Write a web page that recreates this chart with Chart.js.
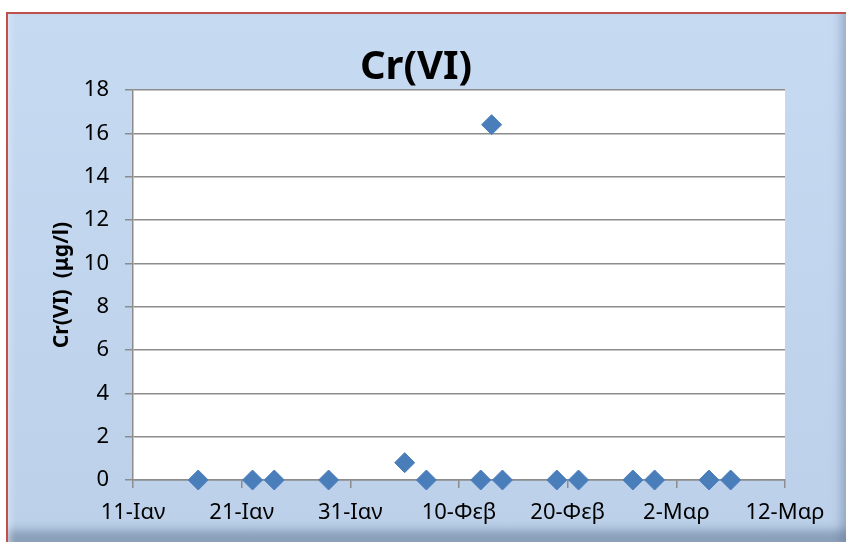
<!DOCTYPE html>
<html>
<head>
<meta charset="utf-8">
<script src="https://cdn.jsdelivr.net/npm/chart.js@4/dist/chart.umd.min.js"></script>
<style>
  html, body { margin: 0; padding: 0; background: #fff; }
  body { width: 846px; height: 542px; position: relative; overflow: hidden; }
  #frame {
    position: absolute; left: 6px; top: 12px; width: 840px; height: 530px;
    box-sizing: border-box;
    border-top: 2px solid #c0504d; border-left: 2px solid #c0504d;
    background: linear-gradient(#c6daf2, #bcd1e9);
    box-shadow: inset 6px 0 6px -4px rgba(255,255,255,0.5),
                inset 0 -18px 10px -6px rgba(90,110,140,0.5),
                inset -12px 0 8px -6px rgba(90,110,140,0.35);
  }
  #chart { position: absolute; left: 0; top: 0; }
</style>
</head>
<body>
<div id="frame"></div>
<canvas id="chart" width="846" height="542"></canvas>
<script>
// sample dates (day-month) and Cr(VI) values in μg/l
const sampleDates = ['17-01', '22-01', '24-01', '29-01', '05-02', '07-02', '12-02', '13-02', '14-02',
                     '19-02', '21-02', '26-02', '28-02', '05-03', '07-03'];
const crValues = [0, 0, 0, 0, 0.8, 0, 0, 16.4, 0, 0, 0, 0, 0, 0, 0];
const xTickLabels = ['11-Ιαν', '21-Ιαν', '31-Ιαν', '10-Φεβ', '20-Φεβ', '2-Μαρ', '12-Μαρ'];
const yTicks = [0, 2, 4, 6, 8, 10, 12, 14, 16, 18];

const startDay = Date.UTC(2015, 0, 11);

function dayOffset(str) {
  const parts = str.split('-');
  return (Date.UTC(2015, Number(parts[1]) - 1, Number(parts[0])) - startDay) / 86400000;
}

const points = sampleDates.map((d, i) => ({ x: dayOffset(d), y: crValues[i] }));

const plotBg = {
  id: 'plotBg',
  beforeDraw(chart) {
    const a = chart.chartArea;
    const ctx = chart.ctx;
    ctx.save();
    ctx.fillStyle = '#ffffff';
    ctx.fillRect(a.left, a.top, a.right - a.left, a.bottom - a.top);
    ctx.restore();
  }
};

Chart.defaults.font.family = "'Noto Sans', sans-serif";
Chart.defaults.color = '#000';

new Chart(document.getElementById('chart'), {
  type: 'scatter',
  data: {
    datasets: [{
      data: points,
      pointStyle: 'rectRot',
      pointRadius: 10,
      pointHoverRadius: 10,
      backgroundColor: '#4a7ebb',
      borderColor: '#4a7ebb',
      borderWidth: 1,
      clip: false
    }]
  },
  options: {
    responsive: false,
    animation: false,
    devicePixelRatio: 1,
    layout: { padding: { left: 47, right: 61, top: 0, bottom: 16 } },
    plugins: {
      legend: { display: false },
      tooltip: { enabled: false },
      title: {
        display: true,
        text: 'Cr(VI)',
        font: { size: 40, weight: 'bold', lineHeight: 1.1 },
        color: '#000',
        padding: { top: 46, bottom: 0 }
      }
    },
    scales: {
      x: {
        type: 'linear',
        min: 0,
        max: 60,
        afterFit: axis => { axis.height = 46; },
        ticks: {
          stepSize: 10,
          font: { size: 22 },
          padding: 12,
          maxRotation: 0,
          callback: v => xTickLabels[v / 10]
        },
        grid: { drawOnChartArea: false, tickLength: 8, color: '#8c8c8c', lineWidth: 1.5 },
        border: { color: '#8c8c8c', width: 1.5 }
      },
      y: {
        min: 0,
        max: 18,
        afterBuildTicks: axis => { axis.ticks = yTicks.map(v => ({ value: v })); },
        afterFit: axis => { axis.width = 86; },
        ticks: { font: { size: 22 }, padding: 16 },
        grid: { tickLength: 8, color: '#8c8c8c', lineWidth: 1.5 },
        border: { color: '#8c8c8c', width: 1.5 },
        title: {
          display: true,
          text: 'Cr(VI)  (μg/l)',
          font: { size: 21, weight: 'bold' },
          color: '#000',
          padding: { top: 2, bottom: 2 }
        }
      }
    }
  },
  plugins: [plotBg]
});
</script>
</body>
</html>
